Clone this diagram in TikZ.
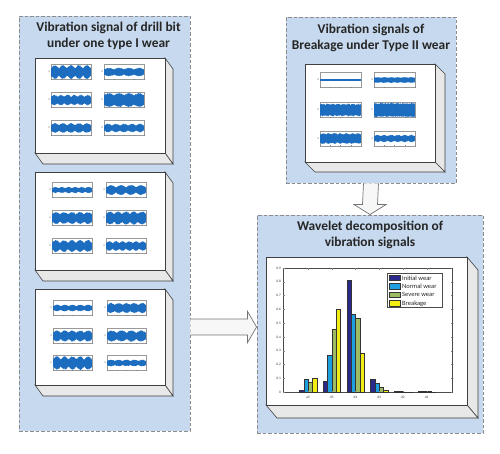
\documentclass[tikz,border=0pt]{standalone}
\usepackage{fontspec}
\setmainfont{Carlito}
\usetikzlibrary{positioning,fit,calc}

\definecolor{panelblue}{HTML}{C6D9EE}
\definecolor{dashgray}{HTML}{8C8C8C}
\definecolor{sigblue}{HTML}{1C6DBF}
\definecolor{initcol}{HTML}{2B2A8C}
\definecolor{normcol}{HTML}{1E9FE0}
\definecolor{sevcol}{HTML}{9CBB62}
\definecolor{brkcol}{HTML}{F2EE10}
\definecolor{titlegray}{HTML}{262626}

% one small signal plot: x left, y centre, width, amplitude, lobes, modulation
\newcommand{\sigplot}[6]{%
  \draw[sigframe] (#1,#2-7.5) rectangle ++(#3,15);
  \fill[sigblue] plot[domain=0:1, samples=150, variable=\t]
      ({#1+#3*\t},{#2-#4*(1-#6+#6*abs(sin(#5*180*\t)))*(0.78+0.22*rnd)})
    -- plot[domain=1:0, samples=150, variable=\t]
      ({#1+#3*\t},{#2+#4*(1-#6+#6*abs(sin(#5*180*\t)))*(0.78+0.22*rnd)}) -- cycle;
  \foreach \k in {0,0.25,...,1} {\draw[sigtick] ({#1+#3*\k},#2+7.5) -- ++(0,-1);}
  \node[sigtext, anchor=east] at (#1-0.8,#2) {0};
}

% white slab with grey sides: name, x1, y1, x2, y2, dx, dy
\newcommand{\slab}[7]{%
  \filldraw[slabside] (#4,#3) -- ++(#6,#7) -- (#4+#6,#5+#7) -- (#4,#5) -- cycle;
  \filldraw[slabside] (#2,#5) -- ++(#6,#7) -- (#4+#6,#5+#7) -- (#4,#5) -- cycle;
  \coordinate (#1-nw) at (#2,#3);
  \coordinate (#1-se) at (#4,#5);
  \node[slabfront, fit=(#1-nw)(#1-se)] (#1) {};
}

\begin{document}
\begin{tikzpicture}[
    x=1pt, y=-1pt,
    panel/.style={draw=dashgray, line width=0.9pt, dash pattern=on 3.5pt off 2pt, fill=panelblue, inner sep=0},
    titletext/.style={font=\bfseries\fontsize{13.4}{16}\selectfont, text=titlegray, align=center},
    slabfront/.style={draw=black!75, line width=0.6pt, fill=white, inner sep=0},
    slabside/.style={draw=black!75, line width=0.6pt, fill=black!9},
    sigframe/.style={draw=black!40, line width=0.3pt, fill=white},
    sigtick/.style={draw=black!50, line width=0.2pt},
    sigtext/.style={font=\fontsize{2.5}{3}\selectfont, text=black!70, inner sep=0},
    bar/.style={draw=black!80, line width=0.3pt},
    ticktext/.style={font=\fontsize{3.5}{4}\selectfont, text=black!80, inner sep=0},
    legendtext/.style={font=\fontsize{6.5}{7}\selectfont, text=black!85, inner sep=0},
    blockarrow/.style={draw=black!55, line width=0.7pt, fill=black!3}
]
\useasboundingbox (0,0) rectangle (500,453);
\pgfmathsetseed{11}

% Panels
\node[panel, minimum width=171pt, minimum height=415pt] (vibpanel) at (104.5,223.5) {};
\node[panel, minimum width=170pt, minimum height=166pt] (breakpanel) at (371,100) {};
\node[panel, minimum width=226pt, minimum height=218pt] (wavepanel) at (370,324) {};

% Titles
\node[titletext] (vibtitle) at (108.5,36) {Vibration signal of drill bit\\under one type I wear};
\node[titletext] (breaktitle) at (371,38) {Vibration signals of\\Breakage under Type II wear};
\node[titletext] (wavetitle) at (370,235) {Wavelet decomposition of\\vibration signals};

% Slabs
\slab{vibbox1}{35}{58}{165}{153}{8}{11}
\slab{vibbox2}{35}{172}{165}{270}{8}{11}
\slab{vibbox3}{35}{289}{165}{385}{8}{11}
\slab{breakbox}{305}{64}{435}{162}{10}{10}
\slab{wavebox}{266}{257}{467}{405}{11}{13}

% Signals of type I wear
\foreach \px/\py/\amp/\lob/\mo in {51/72/7.3/5/0.45, 104/72/4.4/4/0.35, 51/100/5.4/6/0.35,
    104/100/7.3/4/0.3, 51/128/5/5/0.4, 104/128/4.4/5/0.4}
  {\sigplot{\px}{\py}{40}{\amp}{\lob}{\mo}}
\foreach \px/\py/\amp/\lob/\mo in {52/190/3.2/6/0.4, 106/190/5.2/4/0.45, 52/218/6.2/5/0.35,
    106/218/6.8/5/0.35, 52/246/6.2/5/0.45, 106/246/5/6/0.4}
  {\sigplot{\px}{\py}{40}{\amp}{\lob}{\mo}}
\foreach \px/\py/\amp/\lob/\mo in {53/308/3.4/5/0.4, 107/308/5.2/5/0.35, 53/336/5.8/5/0.4,
    107/336/5.8/4/0.4, 53/363/7/5/0.45, 107/363/3.4/5/0.35}
  {\sigplot{\px}{\py}{39}{\amp}{\lob}{\mo}}

% Signals of breakage
\foreach \px/\py/\amp/\lob/\mo in {320/80/1/0/0, 374/80/3/6/0.2, 320/110/6.6/8/0.15,
    374/110/7.4/8/0.1, 320/138.5/5.6/7/0.2, 374/138.5/3.8/6/0.35}
  {\sigplot{\px}{\py}{41}{\amp}{\lob}{\mo}}

% Bar chart
\draw[black!70, line width=0.4pt, fill=white] (283,268) rectangle (452,392);
\foreach \v/\lab in {0/0, 1/0.1, 2/0.2, 3/0.3, 4/0.4, 5/0.5, 6/0.6, 7/0.7, 8/0.8, 9/0.9} {
  \draw[sigtick] (283,{392-\v*13.78}) -- ++(1.5,0);
  \draw[sigtick] (452,{392-\v*13.78}) -- ++(-1.5,0);
  \node[ticktext, anchor=east] at (281,{392-\v*13.78}) {\lab};
}
\foreach \g/\va/\vb/\vc/\vd [count=\i from 0] in {a5/0.012/0.092/0.068/0.097,
    d5/0.078/0.268/0.457/0.603, d4/0.81/0.567/0.535/0.285, d3/0.092/0.066/0.032/0.012,
    d2/0.004/0.003/0.002/0.001, d1/0.005/0.006/0.004/0.002} {
  \pgfmathsetmacro{\gx}{299.3+23.7*\i}
  \filldraw[bar, fill=initcol] (\gx,392) rectangle ++(4.4,-\va*137.8);
  \filldraw[bar, fill=normcol] (\gx+4.4,392) rectangle ++(4.4,-\vb*137.8);
  \filldraw[bar, fill=sevcol] (\gx+8.8,392) rectangle ++(4.4,-\vc*137.8);
  \filldraw[bar, fill=brkcol] (\gx+13.2,392) rectangle ++(4.4,-\vd*137.8);
  \draw[sigtick] (\gx+8.8,268) -- ++(0,1.5);
  \draw[sigtick] (\gx+8.8,392) -- ++(0,-1.5);
  \node[ticktext] at (\gx+8.8,397) {\g};
}

% Legend
\node[draw=black!70, line width=0.4pt, fill=white, minimum width=55pt, minimum height=34pt] (legend) at (414.5,290.3) {};
\foreach \col/\name [count=\j from 0] in {initcol/Initial wear, normcol/Normal wear,
    sevcol/Severe wear, brkcol/Breakage} {
  \filldraw[bar, fill=\col] (389.5,{275+\j*8.5}) rectangle ++(11,5.5);
  \node[legendtext, anchor=west] at (402,{277.8+\j*8.5}) {\name};
}

% Connections
\coordinate (a1) at (vibpanel.east |- 0,327);
\coordinate (a2) at (wavepanel.west |- 0,327);
\filldraw[blockarrow] ($(a1)+(0,-8)$) -- ($(a2)+(-9,-8)$) -- ($(a2)+(-9,-15.5)$) -- (a2)
  -- ($(a2)+(-9,15.5)$) -- ($(a2)+(-9,8)$) -- ($(a1)+(0,8)$);
\coordinate (b1) at (breakpanel.south);
\coordinate (b2) at (wavepanel.north);
\filldraw[blockarrow] ($(b1)+(-7.5,0)$) -- ($(b2)+(-7.5,-10)$) -- ($(b2)+(-16,-10)$) -- (b2)
  -- ($(b2)+(16,-10)$) -- ($(b2)+(7.5,-10)$) -- ($(b1)+(7.5,0)$);

\end{tikzpicture}
\end{document}
